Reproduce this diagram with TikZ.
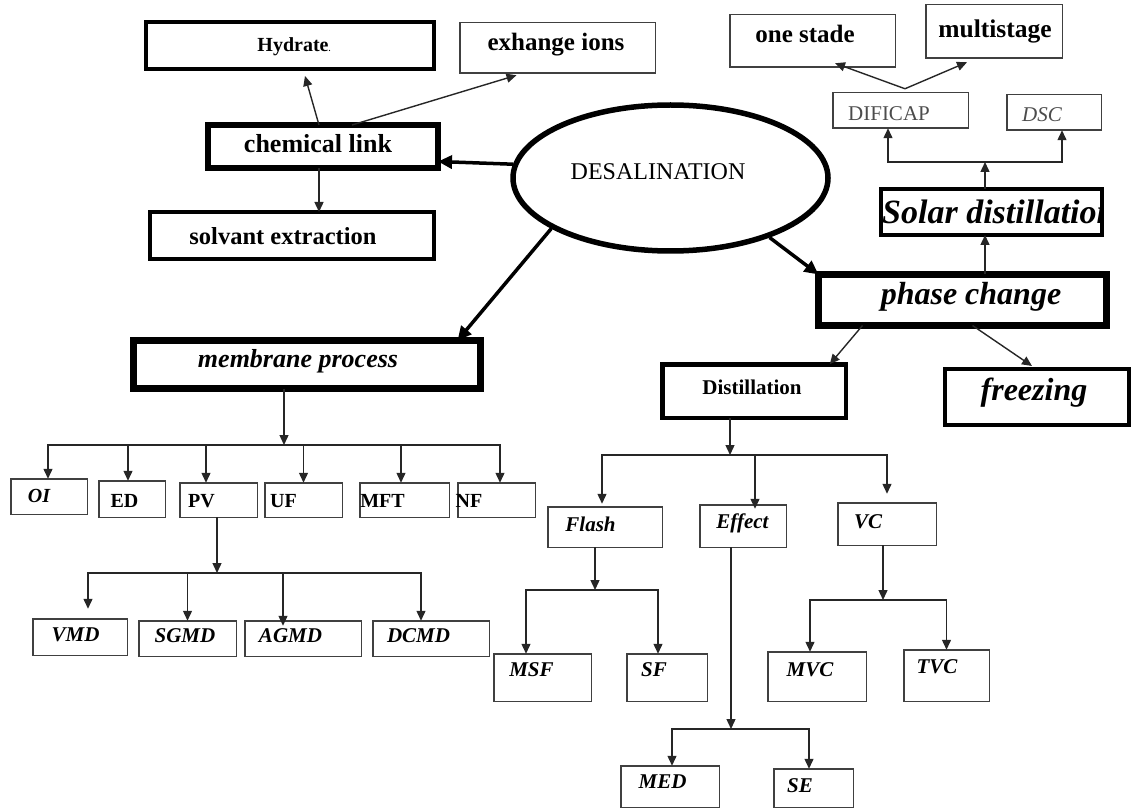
\documentclass[tikz,border=0pt]{standalone}
\usepackage{fontspec}
\setmainfont{Liberation Serif}
\usetikzlibrary{arrows.meta,shapes.geometric}
\newcommand\myfs[1]{\fontsize{#1}{#1}\selectfont}
% name, x1, y1, x2, y2 (outer edges), line width, extra options
\newcommand\mybox[7]{\node[draw, rectangle, inner sep=0pt, outer sep=0pt, line width=#6pt,
  minimum width={#4-#2-#6}, minimum height={#5-#3-#6}, #7] (#1) at ({(#2+#4)/2},{(#3+#5)/2}) {};}
\begin{document}
\begin{tikzpicture}[x=1pt,y=-1pt,
  con/.style={line width=1.4pt, draw=black!85, -{Triangle[length=10pt,width=9pt]}},
  bigcon/.style={line width=3.5pt, draw=black, -{Triangle[length=14pt,width=13pt]}},
  thinbox/.style={draw=black!75},
  lbl/.style={inner sep=0pt, font=\myfs{21}\bfseries\itshape},
  blbl/.style={inner sep=0pt, font=\myfs{20}\bfseries}]
\useasboundingbox (0,0) rectangle (1132,810);

% ---------- top left ----------
\mybox{hyd}{144}{20}{436}{71}{4}{}
\mybox{exh}{459}{22}{656}{74}{1.5}{thinbox}
\mybox{chem}{205}{122}{441}{171}{6}{}
\mybox{solv}{148}{210}{436}{261}{4}{}
\node[inner sep=0pt, font=\myfs{20}\bfseries] (t-hyd) at (294,47) {Hydrate{\myfs{8}.}};
\node[inner sep=0pt, font=\myfs{25}\bfseries] (t-exh) at (556,45) {exhange ions};
\node[inner sep=0pt, font=\myfs{26}\bfseries] (t-chem) at (318,144) {chemical link};
\node[inner sep=0pt, font=\myfs{24.5}\bfseries] (t-solv) at (283,236) {solvant extraction};

% ---------- ellipse ----------
\node[draw, ellipse, line width=5.5pt, minimum width=315pt, minimum height=146pt, inner sep=0pt] (ell) at (670.5,178) {};
\node[inner sep=0pt, font=\myfs{24}] (t-ell) at (658,172) {DESALINATION};

% ---------- top right ----------
\mybox{one}{729}{14}{896}{68}{1.5}{thinbox}
\mybox{multi}{925}{4}{1063}{59}{1.5}{thinbox}
\mybox{dif}{832}{92}{969}{129}{1.5}{thinbox}
\mybox{dsc}{1006}{94}{1102}{131}{1.5}{thinbox}
\node[inner sep=0pt, font=\myfs{25}\bfseries] (t-one) at (805,34) {one stade};
\node[inner sep=0pt, font=\myfs{25.5}\bfseries] (t-multi) at (995,31) {multistage};
\node[inner sep=0pt, font=\myfs{21}, text=black!70] (t-dif) at (889,114) {DIFICAP};
\node[inner sep=0pt, font=\myfs{21}\itshape, text=black!70] (t-dsc) at (1042,115) {DSC};

\begin{scope}
\clip (879,187) rectangle (1102,237);
\node[anchor=west, inner sep=0pt, font=\myfs{34}\bfseries\itshape] (t-solar) at (882,212) {Solar distillation};
\end{scope}
\mybox{solar}{879}{187}{1104}{237}{4}{}
\mybox{phase}{815}{271}{1110}{329}{7}{}
\node[inner sep=0pt, font=\myfs{32}\bfseries\itshape] (t-phase) at (971,297) {phase change};
\mybox{dist}{660}{362}{848}{420}{4.5}{}
\node[inner sep=0pt, font=\myfs{21}\bfseries] (t-dist) at (752,387) {Distillation};
\mybox{frz}{943}{367}{1131}{427}{4}{}
\node[inner sep=0pt, font=\myfs{32}\bfseries\itshape] (t-frz) at (1034,393) {freezing};

% ---------- membrane ----------
\mybox{memb}{130}{337}{484}{392}{7}{}
\node[inner sep=0pt, font=\myfs{26}\bfseries\itshape] (t-memb) at (298,361) {membrane process};
\mybox{OI}{10}{478}{88}{515}{1.5}{thinbox}
\mybox{ED}{98}{480}{166}{518}{1.5}{thinbox}
\mybox{PV}{179}{482}{258}{518}{1.5}{thinbox}
\mybox{UF}{264}{482}{343}{518}{1.5}{thinbox}
\mybox{MFT}{359}{482}{450}{518}{1.5}{thinbox}
\mybox{NF}{457}{482}{536}{518}{1.5}{thinbox}
\node[lbl, font=\myfs{20}\bfseries\itshape] (t-OI) at (39,496) {OI};
\node[blbl] (t-ED) at (124.5,501) {ED};
\node[blbl] (t-PV) at (201.5,501) {PV};
\node[blbl] (t-UF) at (283.5,501) {UF};
\node[blbl] (t-MFT) at (382.5,501) {MFT};
\node[blbl] (t-NF) at (469,501) {NF};

\mybox{VMD}{32}{618}{128}{656}{1.5}{thinbox}
\mybox{SGMD}{138}{620}{237}{657}{1.5}{thinbox}
\mybox{AGMD}{244}{620}{362}{657}{1.5}{thinbox}
\mybox{DCMD}{372}{620}{490}{657}{1.5}{thinbox}
\node[lbl] (t-VMD) at (75.5,635) {VMD};
\node[lbl] (t-SGMD) at (185,636) {SGMD};
\node[lbl] (t-AGMD) at (290.5,636) {AGMD};
\node[lbl] (t-DCMD) at (418.5,636) {DCMD};

% ---------- distillation subtree ----------
\mybox{Flash}{547}{506}{663}{548}{1.5}{thinbox}
\mybox{Effect}{699}{504}{787}{548}{1.5}{thinbox}
\mybox{VC}{837}{502}{937}{546}{1.5}{thinbox}
\node[lbl] (t-Flash) at (590.5,524) {Flash};
\node[lbl] (t-Effect) at (742.5,523) {Effect};
\node[lbl] (t-VC) at (868,522) {VC};
\mybox{MSF}{493}{653}{592}{702}{1.5}{thinbox}
\mybox{SF}{626}{653}{708}{702}{1.5}{thinbox}
\mybox{MVC}{767}{651}{867}{702}{1.5}{thinbox}
\mybox{TVC}{903}{649}{990}{702}{1.5}{thinbox}
\mybox{MED}{620}{765}{720}{808}{1.5}{thinbox}
\mybox{SE}{773}{768}{854}{808}{1.5}{thinbox}
\node[lbl] (t-MSF) at (531.5,670) {MSF};
\node[lbl] (t-SF) at (654,670) {SF};
\node[lbl] (t-MVC) at (810,670) {MVC};
\node[lbl] (t-TVC) at (937,667) {TVC};
\node[lbl] (t-MED) at (662.5,782) {MED};
\node[lbl] (t-SE) at (800,786) {SE};

% ---------- junction coordinates ----------
\coordinate (mj) at (284,445);
\coordinate (pj) at (217,573);
\coordinate (dj) at (730,455);
\coordinate (fj) at (595,590);
\coordinate (ej) at (731,729);
\coordinate (vj) at (883,600);
\coordinate (sj) at (985,162);
\coordinate (c1) at ([xshift=-4pt]chem.south);
\coordinate (ps) at ([xshift=-6.5pt]solar.south);
\coordinate (dv) at ([xshift=4.5pt,yshift=4pt]dif.north);

% ---------- connectors ----------
\draw[con] ([xshift=-4pt]chem.north) -- ([xshift=15pt,yshift=-7pt]hyd.south);
\draw[con] ([xshift=29pt]chem.north) -- ([xshift=-41pt,yshift=-2pt]exh.south);
\draw[con] (c1) -- (c1 |- solv.north);

\draw[bigcon] (ell.175) -- ([yshift=-15pt]chem.east);
\draw[bigcon] (ell.203) -- ([xshift=-23pt]memb.north east);
\draw[bigcon] (ell.-31) -- (phase.north west);

\draw[con] ([xshift=-100pt]phase.south) -- ([xshift=-16pt]dist.north east);
\draw[con] ([xshift=10pt]phase.south) -- ([xshift=-5pt,yshift=3pt]frz.north);
\draw[con] (ps |- phase.north) -- (ps);
\draw[con] ([xshift=-6.5pt]solar.north) -- (sj);
\draw[con] (sj) -| ([xshift=-12.5pt]dif.south);
\draw[con] (sj) -| ([xshift=8pt]dsc.south);
\draw[con] (dv) -- ([xshift=22.5pt,yshift=4pt]one.south);
\draw[con] (dv) -- ([xshift=-27pt,yshift=-4pt]multi.south);

\draw[con] ([xshift=-23pt]memb.south) -- (mj);
\draw[con] (mj) -| ([xshift=-1pt]OI.north);
\draw[con] (mj) -| ([xshift=-4pt]ED.north);
\draw[con] (mj) -| ([xshift=-12.5pt]PV.north);
\draw[con] (mj) -| (UF.north);
\draw[con] (mj) -| ([xshift=-3.5pt]MFT.north);
\draw[con] (mj) -| ([xshift=3.5pt]NF.north);

\draw[con] ([xshift=-1.5pt]PV.south) -- (pj);
\draw[con, shorten >=10pt] (pj) -| ([xshift=8pt]VMD.north);
\draw[con] (pj) -| (SGMD.north);
\draw[con] (pj) -| ([xshift=-20pt,yshift=-5pt]AGMD.north);
\draw[con] (pj) -| ([xshift=-10pt]DCMD.north);

\draw[con] ([xshift=-24pt]dist.south) -- (dj);
\draw[con, shorten >=3pt] (dj) -| ([xshift=-3pt]Flash.north);
\draw[con] (dj) -| ([xshift=12pt,yshift=-4pt]Effect.north);
\draw[con, shorten >=9pt] (dj) -| (VC.north);

\draw[con] ([xshift=-10pt]Flash.south) -- (fj);
\draw[con] (fj) -| ([xshift=-16.5pt]MSF.north);
\draw[con] (fj) -| ([xshift=-9pt]SF.north);

\draw[con] ([xshift=-12pt]Effect.south) -- (ej);
\draw[con] (ej) -| ([xshift=2pt]MED.north);
\draw[con] (ej) -| ([xshift=-4.5pt]SE.north);

\draw[con] ([xshift=-4pt]VC.south) -- (vj);
\draw[con] (vj) -| ([xshift=-7pt]MVC.north);
\draw[con] (vj) -| (TVC.north);
\end{tikzpicture}
\end{document}
